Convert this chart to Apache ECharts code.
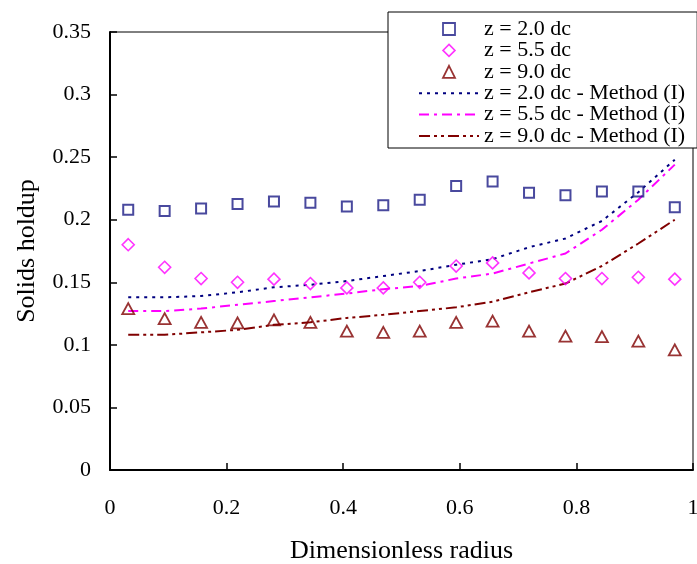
<!DOCTYPE html>
<html>
<head>
<meta charset="utf-8">
<title>Solids holdup</title>
<script src="https://cdn.jsdelivr.net/npm/echarts@6/dist/echarts.min.js"></script>
<style>
  html, body { margin: 0; padding: 0; background: #fff; }
  #chart { width: 697px; height: 564px; }
</style>
</head>
<body>
<div id="chart"></div>
<script>
// Radial positions of the measurement points (dimensionless radius r/R)
const radius = [0.03125, 0.09375, 0.15625, 0.21875, 0.28125, 0.34375, 0.40625, 0.46875,
                0.53125, 0.59375, 0.65625, 0.71875, 0.78125, 0.84375, 0.90625, 0.96875];

// Measured solids holdup at three axial heights
const holdupZ20 = [0.208, 0.207, 0.209, 0.2125, 0.2145, 0.2135, 0.2105, 0.2115,
                   0.216, 0.227, 0.2305, 0.2215, 0.2195, 0.2225, 0.2225, 0.210];
const holdupZ55 = [0.180, 0.162, 0.153, 0.150, 0.1525, 0.149, 0.1455, 0.1455,
                   0.150, 0.163, 0.1655, 0.1575, 0.153, 0.153, 0.154, 0.1525];
const holdupZ90 = [0.129, 0.121, 0.118, 0.1175, 0.120, 0.118, 0.111, 0.110,
                   0.111, 0.118, 0.119, 0.111, 0.107, 0.1065, 0.103, 0.096];

// Predictions from Method (I)
const methodZ20 = [0.138, 0.138, 0.139, 0.142, 0.146, 0.148, 0.151, 0.155,
                   0.159, 0.164, 0.1685, 0.178, 0.185, 0.199, 0.222, 0.248];
const methodZ55 = [0.127, 0.127, 0.129, 0.132, 0.135, 0.138, 0.141, 0.1445,
                   0.147, 0.153, 0.157, 0.165, 0.173, 0.192, 0.216, 0.244];
const methodZ90 = [0.108, 0.108, 0.110, 0.112, 0.116, 0.118, 0.1215, 0.124,
                   0.127, 0.130, 0.1345, 0.142, 0.149, 0.163, 0.181, 0.200];

const seriesNames = ['z = 2.0 dc', 'z = 5.5 dc', 'z = 9.0 dc',
                     'z = 2.0 dc - Method (I)', 'z = 5.5 dc - Method (I)', 'z = 9.0 dc - Method (I)'];

const FONT = "'Liberation Serif', 'Times New Roman', serif";

// Outline shapes used for the legend keys (square aspect kept inside the key box)
const KEY_SQUARE = 'path://M0,0L10,0L10,10L0,10Z';
const KEY_DIAMOND = 'path://M5,0L10,5L5,10L0,5Z';
const KEY_TRIANGLE = 'path://M5,0L10,10L0,10Z';

function pairs(ys) {
  return radius.map((x, i) => [x, ys[i]]);
}

function scatter(name, ys, symbol, size, color, bw) {
  return {
    name, type: 'scatter', data: pairs(ys), symbol, symbolSize: size,
    itemStyle: { color: 'rgba(255,255,255,0)', borderColor: color, borderWidth: bw },
    z: 3
  };
}

function method(name, ys, color, dash) {
  return {
    name, type: 'line', data: pairs(ys), symbol: 'none', smooth: false,
    lineStyle: { color, width: 2, type: dash },
    itemStyle: { color },
    z: 2
  };
}

const chart = echarts.init(document.getElementById('chart'));
chart.setOption({
  animation: false,
  backgroundColor: '#fff',
  textStyle: { fontFamily: FONT },
  grid: {
    left: 110, top: 32, right: 4, bottom: 94,
    outerBoundsMode: 'none', containLabel: false,
    show: true, borderColor: '#000', borderWidth: 1, backgroundColor: 'transparent'
  },
  legend: {
    data: [
      { name: seriesNames[0], icon: KEY_SQUARE, itemStyle: { borderWidth: 1.8 } },
      { name: seriesNames[1], icon: KEY_DIAMOND, itemStyle: { borderWidth: 1.6 } },
      { name: seriesNames[2], icon: KEY_TRIANGLE, itemStyle: { borderWidth: 1.8 } },
      { name: seriesNames[3], itemStyle: { opacity: 0 } },
      { name: seriesNames[4], itemStyle: { opacity: 0 } },
      { name: seriesNames[5], itemStyle: { opacity: 0 } }
    ],
    orient: 'vertical',
    left: 388, top: 12,
    padding: [6, 12, 1, 30],
    itemWidth: 60, itemHeight: 12, itemGap: -0.6,
    symbolKeepAspect: true,
    backgroundColor: '#fff', borderColor: '#000', borderWidth: 1, borderRadius: 0,
    selectedMode: false,
    textStyle: { fontFamily: FONT, fontSize: 22, color: '#000', lineHeight: 20 }
  },
  xAxis: {
    type: 'value', min: 0, max: 1, interval: 0.2,
    name: 'Dimensionless radius', nameLocation: 'middle', nameGap: 68,
    nameTextStyle: { fontFamily: FONT, fontSize: 26, color: '#000' },
    axisLine: { lineStyle: { color: '#000', width: 2 } },
    axisTick: { inside: true, length: 7, lineStyle: { color: '#000', width: 1.5 } },
    axisLabel: { fontFamily: FONT, fontSize: 22, color: '#000', margin: 27 },
    splitLine: { show: false }
  },
  yAxis: {
    type: 'value', min: 0, max: 0.35, interval: 0.05,
    name: 'Solids holdup', nameLocation: 'middle', nameGap: 70, nameRotate: 90,
    nameTextStyle: { fontFamily: FONT, fontSize: 26, color: '#000' },
    axisLine: { lineStyle: { color: '#000', width: 2 } },
    axisTick: { inside: true, length: 7, lineStyle: { color: '#000', width: 1.5 } },
    axisLabel: { fontFamily: FONT, fontSize: 22, color: '#000', margin: 19 },
    splitLine: { show: false }
  },
  series: [
    scatter(seriesNames[0], holdupZ20, 'rect', 10, '#1c1c86', 2),
    scatter(seriesNames[1], holdupZ55, 'diamond', [12, 12], '#ff00ff', 1.6),
    scatter(seriesNames[2], holdupZ90, 'triangle', [12, 11], '#800000', 1.8),
    method(seriesNames[3], methodZ20, '#000080', [3, 5]),
    method(seriesNames[4], methodZ55, '#ff00ff', [10, 5, 3, 5]),
    method(seriesNames[5], methodZ90, '#800000', [11, 4, 3, 4, 3, 4])
  ]
});
</script>
</body>
</html>
